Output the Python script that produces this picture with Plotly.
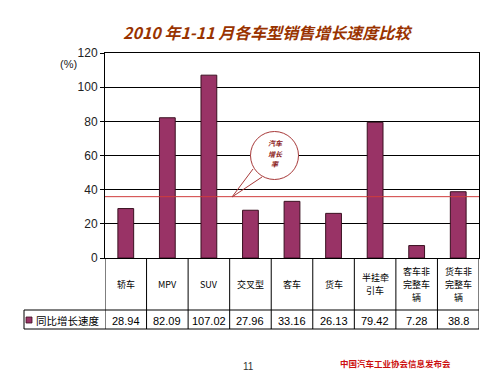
import plotly.graph_objects as go

categories = ["轿车", "MPV", "SUV", "交叉型", "客车", "货车", "半挂牵\n引车", "客车非\n完整车\n辆", "货车非\n完整车\n辆"]
values = [28.94, 82.09, 107.02, 27.96, 33.16, 26.13, 79.42, 7.28, 38.8]
value_labels = ["28.94", "82.09", "107.02", "27.96", "33.16", "26.13", "79.42", "7.28", "38.8"]
series_name = "同比增长速度"
avg_growth = 35.9
y_ticks = [0, 20, 40, 60, 80, 100, 120]

OFF = 8  # page body margin
W, H = 500 - OFF, 376 - OFF
L, R, T, B = 105, 479, 53, 258  # page pixel coordinates of plot area
BAR = "#993366"

def px(x):
    return (x - L) / (R - L)

def py(y):
    return (B - y) / (B - T)

fig = go.Figure()
fig.add_trace(go.Bar(
    x=list(range(len(values))), y=values, name=series_name,
    marker=dict(color=BAR, line=dict(color="#3a1020", width=1)),
    width=0.38, showlegend=False, hoverinfo="skip",
))
fig.add_trace(go.Scatter(
    x=[-0.5, len(values) - 0.5], y=[avg_growth, avg_growth], mode="lines",
    line=dict(color="#d03c3c", width=1), showlegend=False, hoverinfo="skip",
))

shapes = []
for i in range(len(values) + 1):
    shapes.append(dict(type="line", xref="x", yref="paper", x0=i - 0.5, x1=i - 0.5,
                       y0=0, y1=py(329), line=dict(color="black", width=1)))
for yy in (310, 329):
    shapes.append(dict(type="line", xref="paper", yref="paper", x0=px(24), x1=1,
                       y0=py(yy), y1=py(yy), line=dict(color="black", width=1)))
shapes.append(dict(type="line", xref="paper", yref="paper", x0=px(24), x1=px(24),
                   y0=py(310), y1=py(329), line=dict(color="black", width=1)))
shapes.append(dict(type="rect", xref="paper", yref="paper", x0=px(26), x1=px(32),
                   y0=py(323), y1=py(317), fillcolor=BAR, line=dict(color="#3a1020", width=0.8)))
cx, cy, r = 274.5, 155.5, 24
shapes.append(dict(type="circle", xref="paper", yref="paper",
                   x0=px(cx - r), x1=px(cx + r), y0=py(cy + r), y1=py(cy - r),
                   fillcolor="white", line=dict(color="#a83a3a", width=1)))
path = f"M {px(253)} {py(169)} L {px(232)} {py(197)} L {px(262)} {py(177)}"
shapes.append(dict(type="path", xref="paper", yref="paper", path=path,
                   line=dict(color="#a83a3a", width=1)))

def note(x, y, text, size, color="black", family="Noto Sans CJK SC", xref="paper", xanchor="center"):
    return dict(x=x, y=y, xref=xref, yref="paper", text=text, showarrow=False,
                xanchor=xanchor, yanchor="middle", align="center", borderpad=0,
                font=dict(family=family, size=size, color=color))

annotations = []
LINE_H = 13
for i, c in enumerate(categories):
    lines = c.split("\n")
    n = len(lines)
    for k, ln in enumerate(lines):
        yc = 284 + (k - (n - 1) / 2) * LINE_H
        annotations.append(note(i, py(yc), ln, 9, xref="x"))
    annotations.append(note(i, py(321), value_labels[i], 11, family="Liberation Sans", xref="x"))
annotations.append(note(px(35), py(320.5), series_name, 10.5, xanchor="left"))
annotations.append(note(px(68), py(64), "(%)", 11, color="#222", family="Liberation Sans"))
for k, ln in enumerate(["汽车", "增长", "率"]):
    annotations.append(note(px(275), py(143 + k * 10.5), f"<i><b>{ln}</b></i>", 7, color="#8b1a1a"))
annotations.append(note(px(268), py(32), "<b><i>2010 年1-11 月各车型销售增长速度比较</i></b>", 16, color="#993300"))
annotations.append(note(px(248), py(366), "11", 10, color="#333", family="Liberation Sans"))
annotations.append(note(px(395), py(363), "<b>中国汽车工业协会信息发布会</b>", 8.5, color="#cc1010"))

fig.update_layout(
    width=W, height=H,
    margin=dict(l=L - OFF, r=500 - R, t=T - OFF, b=376 - B),
    paper_bgcolor="white", plot_bgcolor="white",
    shapes=shapes, annotations=annotations,
    xaxis=dict(range=[-0.5, len(values) - 0.5], showticklabels=False, showgrid=False,
               zeroline=False, showline=True, linecolor="black", linewidth=1, mirror=True,
               ticks=""),
    yaxis=dict(range=[0, 120], tickvals=y_ticks, showgrid=True, gridcolor="black", gridwidth=1,
               zeroline=False, showline=True, linecolor="black", linewidth=1, mirror=True,
               ticks="outside", ticklen=4, tickcolor="black",
               tickfont=dict(family="Liberation Sans", size=12, color="#222")),
    bargap=0.6,
)

fig.write_html("out.html")
